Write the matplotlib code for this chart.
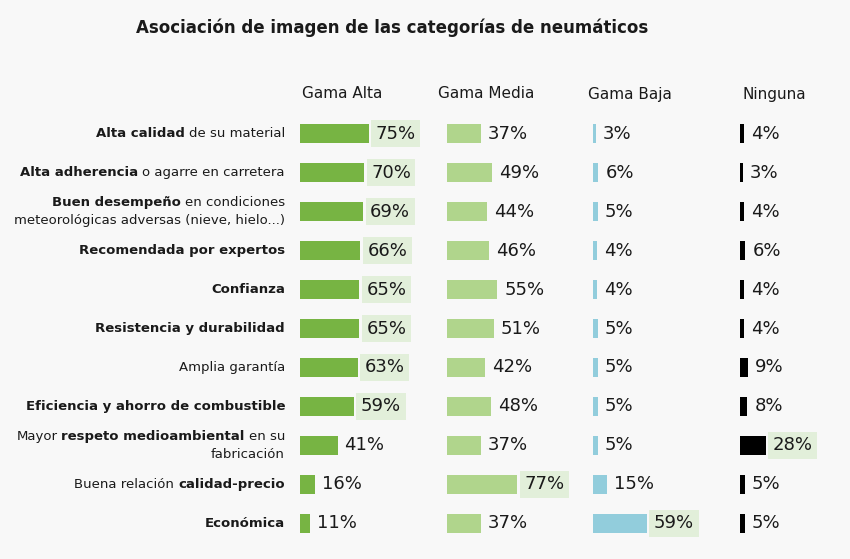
import matplotlib.pyplot as plt

# datos
series = ['Gama Alta', 'Gama Media', 'Gama Baja', 'Ninguna']
gama_alta = [75, 70, 69, 66, 65, 65, 63, 59, 41, 16, 11]
gama_media = [37, 49, 44, 46, 55, 51, 42, 48, 37, 77, 37]
gama_baja = [3, 6, 5, 4, 4, 5, 5, 5, 5, 15, 59]
ninguna = [4, 3, 4, 6, 4, 4, 9, 8, 28, 5, 5]
# columna resaltada en cada fila
destacada = [0, 0, 0, 0, 0, 0, 0, 0, 3, 1, 2]

# etiquetas: lineas -> segmentos (texto, negrita)
labels = [
    [[('Alta calidad', True), ('de su material', False)]],
    [[('Alta adherencia', True), ('o agarre en carretera', False)]],
    [[('Buen desempeño', True), ('en condiciones', False)],
     [('meteorológicas adversas (nieve, hielo...)', False)]],
    [[('Recomendada por expertos', True)]],
    [[('Confianza', True)]],
    [[('Resistencia y durabilidad', True)]],
    [[('Amplia garantía', False)]],
    [[('Eficiencia y ahorro de combustible', True)]],
    [[('Mayor', False), ('respeto medioambiental', True), ('en su', False)],
     [('fabricación', False)]],
    [[('Buena relación', False), ('calidad-precio', True)]],
    [[('Económica', True)]],
]

colors = ['#77b443', '#b0d58c', '#92cddc', '#000000']
highlight = '#e2efda'
bg = '#f8f8f8'
txt = '#1a1a1a'

plt.rcParams['font.family'] = ['DejaVu Sans']

W, H = 850, 559
fig = plt.figure(figsize=(W / 100, H / 100), dpi=100, facecolor=bg)

def fx(px):
    return px / W

def fy(py):
    return 1 - py / H

lefts = [300, 447, 593, 740]
head_x = [342, 486, 630, 774]
top, bottom = 114.5, 542.5
ax_w = 91.5

values = [gama_alta, gama_media, gama_baja, ninguna]
n = len(gama_alta)
axes = []
for k, vals in enumerate(values):
    ax = fig.add_axes([fx(lefts[k]), fy(bottom), ax_w / W, (bottom - top) / H])
    ax.set_facecolor('none')
    ax.barh(range(n), vals, height=0.49, color=colors[k])
    ax.set_xlim(0, 100)
    ax.set_ylim(n - 0.5, -0.5)
    ax.axis('off')
    for i, v in enumerate(vals):
        bbox = None
        if destacada[i] == k:
            bbox = dict(boxstyle='square,pad=0.25', fc=highlight, ec='none')
        ax.annotate(f'{v}%', xy=(v, i), xytext=(7, 0), textcoords='offset pixels',
                    ha='left', va='center', fontsize=13, color=txt, bbox=bbox,
                    annotation_clip=False)
    fig.text(fx(head_x[k]), fy(94), series[k], ha='center', va='center',
             fontsize=11, color=txt)
    axes.append(ax)

# etiquetas de categoria con partes en negrita
ax0 = axes[0]
for i, lines in enumerate(labels):
    for j, segs in enumerate(lines):
        dy = 0 if len(lines) == 1 else (9 if j == 0 else -9)
        prev = None
        for text, bold in reversed(segs):
            w = 'bold' if bold else 'normal'
            if prev is None:
                prev = ax0.annotate(text, xy=(0, i), xycoords=('axes fraction', 'data'),
                                    xytext=(-15, dy), textcoords='offset pixels',
                                    ha='right', va='center', fontsize=9.5,
                                    fontweight=w, color=txt, annotation_clip=False)
            else:
                prev = ax0.annotate(text, xy=(0, 0), xycoords=prev,
                                    xytext=(-4, 0), textcoords='offset pixels',
                                    ha='right', va='bottom', fontsize=9.5,
                                    fontweight=w, color=txt, annotation_clip=False)

fig.text(fx(392), fy(28), 'Asociación de imagen de las categorías de neumáticos',
         ha='center', va='center', fontsize=12, fontweight='bold', color=txt)

fig.savefig('out.png', dpi=100, facecolor=bg)
